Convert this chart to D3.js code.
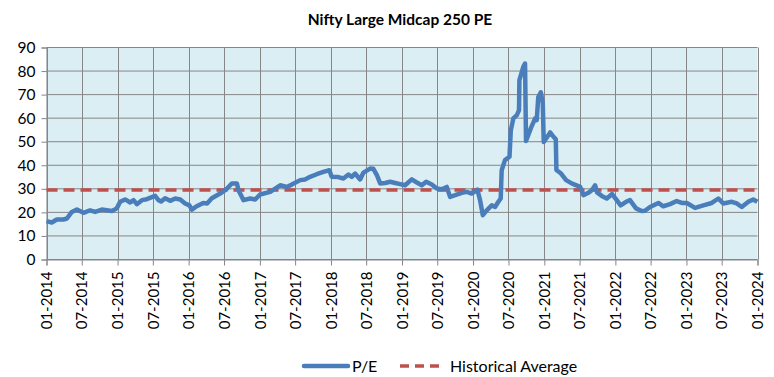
<!DOCTYPE html>
<html>
<head>
<meta charset="utf-8">
<script src="https://cdn.jsdelivr.net/npm/d3@7"></script>
<style>
  body { margin: 0; background: #fff; }
  text { font-family: Lato, "Open Sans", sans-serif; }
</style>
</head>
<body>
<div id="chart"></div>
<script>
// P/E readings (date, value)
const dates = [
  "2014-01-01","2014-01-28","2014-02-23","2014-03-29","2014-04-16","2014-05-11","2014-06-06","2014-07-10",
  "2014-08-13","2014-09-08","2014-10-12","2014-11-07","2014-12-03","2014-12-28","2015-01-14","2015-02-09",
  "2015-03-07","2015-03-24","2015-04-10","2015-05-06","2015-05-31","2015-07-13","2015-07-30","2015-08-13",
  "2015-09-02","2015-09-28","2015-10-24","2015-11-19","2015-12-14","2016-01-05","2016-01-18","2016-02-09",
  "2016-03-16","2016-04-05","2016-04-29","2016-06-11","2016-07-15","2016-08-10","2016-09-05","2016-09-13",
  "2016-10-09","2016-11-12","2016-12-08","2017-01-02","2017-02-23","2017-04-15","2017-05-19","2017-06-14",
  "2017-07-27","2017-08-21","2017-09-16","2017-10-20","2017-11-23","2017-12-24","2018-01-05","2018-02-08",
  "2018-03-06","2018-04-01","2018-04-18","2018-05-05","2018-05-31","2018-06-17","2018-07-21","2018-08-07",
  "2018-08-25","2018-09-11","2018-10-06","2018-11-01","2018-11-27","2018-12-22","2019-01-17","2019-02-20",
  "2019-03-18","2019-04-13","2019-05-05","2019-06-03","2019-06-29","2019-07-24","2019-08-19","2019-09-05",
  "2019-10-01","2019-11-04","2019-11-30","2019-12-25","2020-01-23","2020-02-06","2020-02-20","2020-03-11",
  "2020-04-06","2020-04-23","2020-05-10","2020-05-22","2020-05-27","2020-06-13","2020-07-06","2020-07-13",
  "2020-07-26","2020-08-13","2020-08-24","2020-08-26","2020-09-15","2020-09-24","2020-09-29","2020-10-25",
  "2020-11-15","2020-11-23","2020-12-01","2020-12-14","2020-12-24","2020-12-29","2021-01-20","2021-01-31",
  "2021-02-17","2021-03-01","2021-03-04","2021-03-28","2021-04-23","2021-05-24","2021-07-04","2021-07-21",
  "2021-08-15","2021-09-03","2021-09-19","2021-09-29","2021-10-23","2021-11-18","2021-12-15","2022-01-08",
  "2022-01-28","2022-02-25","2022-03-17","2022-04-17","2022-05-16","2022-06-02","2022-06-28","2022-08-10",
  "2022-09-04","2022-10-09","2022-11-12","2022-12-08","2023-01-03","2023-02-14","2023-03-29","2023-05-11",
  "2023-06-14","2023-07-09","2023-08-22","2023-09-16","2023-10-12","2023-11-15","2023-12-10","2023-12-31"
];
const peValues = [
  16.3,15.7,17.0,17.0,17.4,20.2,21.2,19.8,
  20.9,20.2,21.2,20.9,20.6,21.7,24.5,25.5,
  24.2,25.2,23.5,25.2,25.6,27.0,25.2,24.6,
  26.0,24.9,25.9,25.5,23.8,23.0,21.2,22.5,
  24.0,23.8,26.0,28.0,30.0,32.3,32.3,29.4,
  25.2,25.9,25.5,27.6,28.7,31.5,30.8,31.8,
  33.7,34.0,35.1,36.2,37.2,37.9,35.1,35.0,
  34.4,36.1,35.1,36.5,34.0,36.9,38.6,38.5,
  35.8,32.3,32.5,33.0,32.5,32.0,31.5,34.0,
  32.7,31.5,33.0,31.8,30.1,29.8,30.8,26.6,
  27.3,28.3,28.7,28.0,29.7,25.2,18.8,20.9,
  23.0,22.3,24.5,25.9,37.9,42.2,43.6,54.9,
  59.9,61.3,63.4,76.1,81.8,83.2,50.3,56.0,
  59.9,59.2,69.0,71.0,66.5,49.9,52.5,54.0,
  52.1,51.0,38.0,36.5,33.7,32.2,30.8,27.3,
  28.3,29.5,31.5,28.5,27.0,25.9,27.8,25.2,
  23.0,24.5,25.2,21.7,20.6,20.7,22.3,24.0,
  22.6,23.5,24.8,24.0,24.0,21.9,23.0,24.0,
  25.9,23.8,24.5,23.8,22.3,24.5,25.5,24.5
];
const historicalAverage = 29.5;
const yTicks = [0, 10, 20, 30, 40, 50, 60, 70, 80, 90];
const xStart = "2014-01-01", xEnd = "2024-01-01";
const seriesNames = ["P/E", "Historical Average"];
const title = "Nifty Large Midcap 250 PE";

const width = 774, height = 377;
const margin = {top: 47.5, right: 16.5, bottom: 117.5, left: 46.5};
const parse = d3.timeParse("%Y-%m-%d");
const data = dates.map((d, i) => ({date: parse(d), v: peValues[i]}));

const x = d3.scaleTime()
  .domain([parse(xStart), parse(xEnd)])
  .range([margin.left, width - margin.right]);
const y = d3.scaleLinear()
  .domain([0, 90])
  .range([height - margin.bottom, margin.top]);

const svg = d3.select("#chart").append("svg")
  .attr("width", width).attr("height", height);

const gridColor = "#868686";

// plot background
svg.append("rect")
  .attr("x", x.range()[0]).attr("y", y(90))
  .attr("width", x.range()[1] - x.range()[0])
  .attr("height", y(0) - y(90))
  .attr("fill", "#DBEEF3");

const xTicks = d3.timeMonth.every(6).range(parse(xStart), d3.timeDay.offset(parse(xEnd), 1));

// gridlines
svg.append("g")
  .selectAll("line").data(yTicks).join("line")
  .attr("x1", x.range()[0]).attr("x2", x.range()[1])
  .attr("y1", d => y(d)).attr("y2", d => y(d))
  .attr("stroke", gridColor).attr("stroke-width", 1);
svg.append("g")
  .selectAll("line").data(xTicks).join("line")
  .attr("x1", d => Math.round(x(d)) + 0.5).attr("x2", d => Math.round(x(d)) + 0.5)
  .attr("y1", y(90)).attr("y2", y(0))
  .attr("stroke", gridColor).attr("stroke-width", 1);

// axes
const yAxis = svg.append("g")
  .attr("transform", `translate(${margin.left},0)`)
  .call(d3.axisLeft(y).tickValues(yTicks).tickSize(5).tickPadding(6))
  .call(g => g.select(".domain").attr("stroke", gridColor));
yAxis.selectAll(".tick line").attr("stroke", gridColor);
yAxis.selectAll("text").attr("font-size", 15.5).attr("fill", "#000");

const xAxis = svg.append("g")
  .attr("transform", `translate(0,${y(0)})`)
  .call(d3.axisBottom(x).tickValues(xTicks).tickFormat(d3.timeFormat("%m-%Y")).tickSize(6))
  .call(g => g.select(".domain").attr("stroke", gridColor));
xAxis.selectAll(".tick line").attr("stroke", gridColor);
xAxis.selectAll("text")
  .attr("font-size", 15).attr("fill", "#000")
  .attr("transform", "rotate(-90)")
  .attr("text-anchor", "end")
  .attr("x", -12).attr("y", 0).attr("dy", "0.35em");

// average line
svg.append("line")
  .attr("x1", x.range()[0]).attr("x2", x.range()[1])
  .attr("y1", y(historicalAverage)).attr("y2", y(historicalAverage))
  .attr("stroke", "#C0504D").attr("stroke-width", 3.5)
  .attr("stroke-dasharray", "11,6");

// P/E line
const line = d3.line().x(d => x(d.date)).y(d => y(d.v));
svg.append("path")
  .datum(data)
  .attr("d", line)
  .attr("fill", "none")
  .attr("stroke", "#4A7EBB")
  .attr("stroke-width", 4.5)
  .attr("stroke-linejoin", "round");

// title
svg.append("text")
  .attr("x", 400).attr("y", 25)
  .attr("text-anchor", "middle")
  .attr("font-size", 15.5).attr("font-weight", "bold")
  .text(title);

// legend
const legend = svg.append("g").attr("transform", "translate(0,366)");
legend.append("line")
  .attr("x1", 304).attr("x2", 348).attr("y1", 0).attr("y2", 0)
  .attr("stroke", "#4A7EBB").attr("stroke-width", 4.5).attr("stroke-linecap", "round");
legend.append("text").attr("x", 352).attr("y", 0).attr("dy", "0.35em")
  .attr("font-size", 16).text(seriesNames[0]);
legend.append("line")
  .attr("x1", 400).attr("x2", 442).attr("y1", 0).attr("y2", 0)
  .attr("stroke", "#C0504D").attr("stroke-width", 3.5)
  .attr("stroke-dasharray", "9,6");
legend.append("text").attr("x", 450).attr("y", 0).attr("dy", "0.35em")
  .attr("font-size", 16).text(seriesNames[1]);
</script>
</body>
</html>
